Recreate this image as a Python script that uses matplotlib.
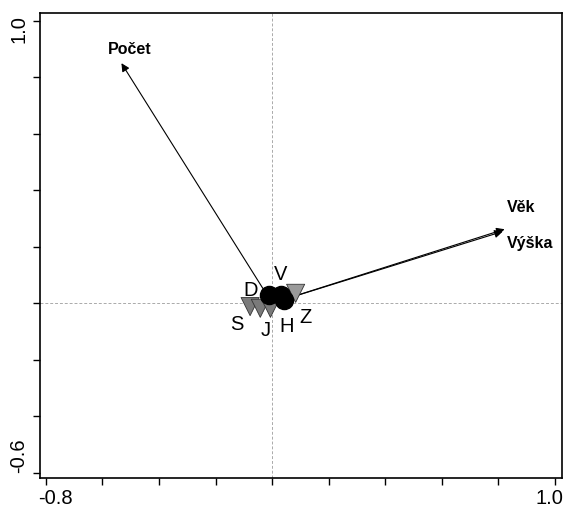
import matplotlib
matplotlib.use('Agg')
import matplotlib.pyplot as plt
import matplotlib.transforms as mtransforms

plt.rcParams['font.family'] = ['Liberation Sans', 'DejaVu Sans']

# Environmental vectors (arrows from origin)
vec_names = ["Počet", "Věk", "Výška"]
vec_x = [-0.533, 0.822, 0.815]
vec_y = [0.850, 0.262, 0.254]
vec_label_x = [-0.58, 0.83, 0.83]
vec_label_y = [0.90, 0.34, 0.21]

# Sample points
circle_x = [-0.012, 0.030, 0.043]
circle_y = [0.030, 0.030, 0.010]
tri_x = [-0.078, -0.042, -0.006, 0.083]
tri_y = [-0.012, -0.018, -0.018, 0.035]
tri_colors = ['#7a7a7a', '#7a7a7a', '#7a7a7a', '#9a9a9a']

# Point labels
pt_names = ["S", "J", "H", "Z", "D", "V"]
pt_x = [-0.125, -0.023, 0.052, 0.118, -0.077, 0.030]
pt_y = [-0.075, -0.095, -0.083, -0.052, 0.045, 0.100]

xticks = [-0.8, -0.6, -0.4, -0.2, 0.0, 0.2, 0.4, 0.6, 0.8, 1.0]
yticks = [1.0, 0.8, 0.6, 0.4, 0.2, 0.0, -0.2, -0.4, -0.6]

fig = plt.figure(figsize=(5.64, 5.11), dpi=100)
ax = fig.add_axes([0.0704, 0.0646, 0.9256, 0.909])
ax.set_xlim(-0.822, 1.024)
ax.set_ylim(-0.619, 1.026)

ax.axhline(0, color='#aaaaaa', lw=0.7, ls=(0, (3, 2)), zorder=0)
ax.axvline(0, color='#aaaaaa', lw=0.7, ls=(0, (3, 2)), zorder=0)

for x, y in zip(vec_x, vec_y):
    ax.annotate('', xy=(x, y), xytext=(0, 0),
                arrowprops=dict(arrowstyle='-|>', color='black', lw=0.8,
                                mutation_scale=12, shrinkA=0, shrinkB=0))
for name, x, y in zip(vec_names, vec_label_x, vec_label_y):
    ax.text(x, y, name, fontsize=11.5, fontweight='bold', ha='left', va='center')
# Počet label is centered above its arrow
ax.texts[0].set_ha('center')

ax.scatter(circle_x, circle_y, s=170, color='black', zorder=4)
ax.scatter(tri_x, tri_y, s=170, marker='v', color=tri_colors,
           edgecolors='#333333', linewidths=0.6, zorder=3)

for name, x, y in zip(pt_names, pt_x, pt_y):
    ax.text(x, y, name, fontsize=14.5, ha='center', va='center', zorder=5)

ax.set_xticks(xticks)
ax.set_yticks(yticks)
ax.set_xticklabels(['-0.8'] + [''] * 8 + ['1.0'], fontsize=14.5)
ax.set_yticklabels(['1.0'] + [''] * 7 + ['-0.6'], fontsize=14.5, rotation=90)
ax.tick_params(direction='out', length=5, width=1, pad=3)

xl = ax.get_xticklabels()
xl[0].set_ha('left')
xl[0].set_transform(xl[0].get_transform() + mtransforms.ScaledTranslation(-8 / 100, 0, fig.dpi_scale_trans))
xl[-1].set_ha('right')
xl[-1].set_transform(xl[-1].get_transform() + mtransforms.ScaledTranslation(8 / 100, 0, fig.dpi_scale_trans))
yl = ax.get_yticklabels()
yl[0].set_va('top')
yl[0].set_transform(yl[0].get_transform() + mtransforms.ScaledTranslation(0, 6 / 100, fig.dpi_scale_trans))
yl[-1].set_va('bottom')

for s in ax.spines.values():
    s.set_linewidth(1.2)

fig.savefig('out.png', dpi=100)
